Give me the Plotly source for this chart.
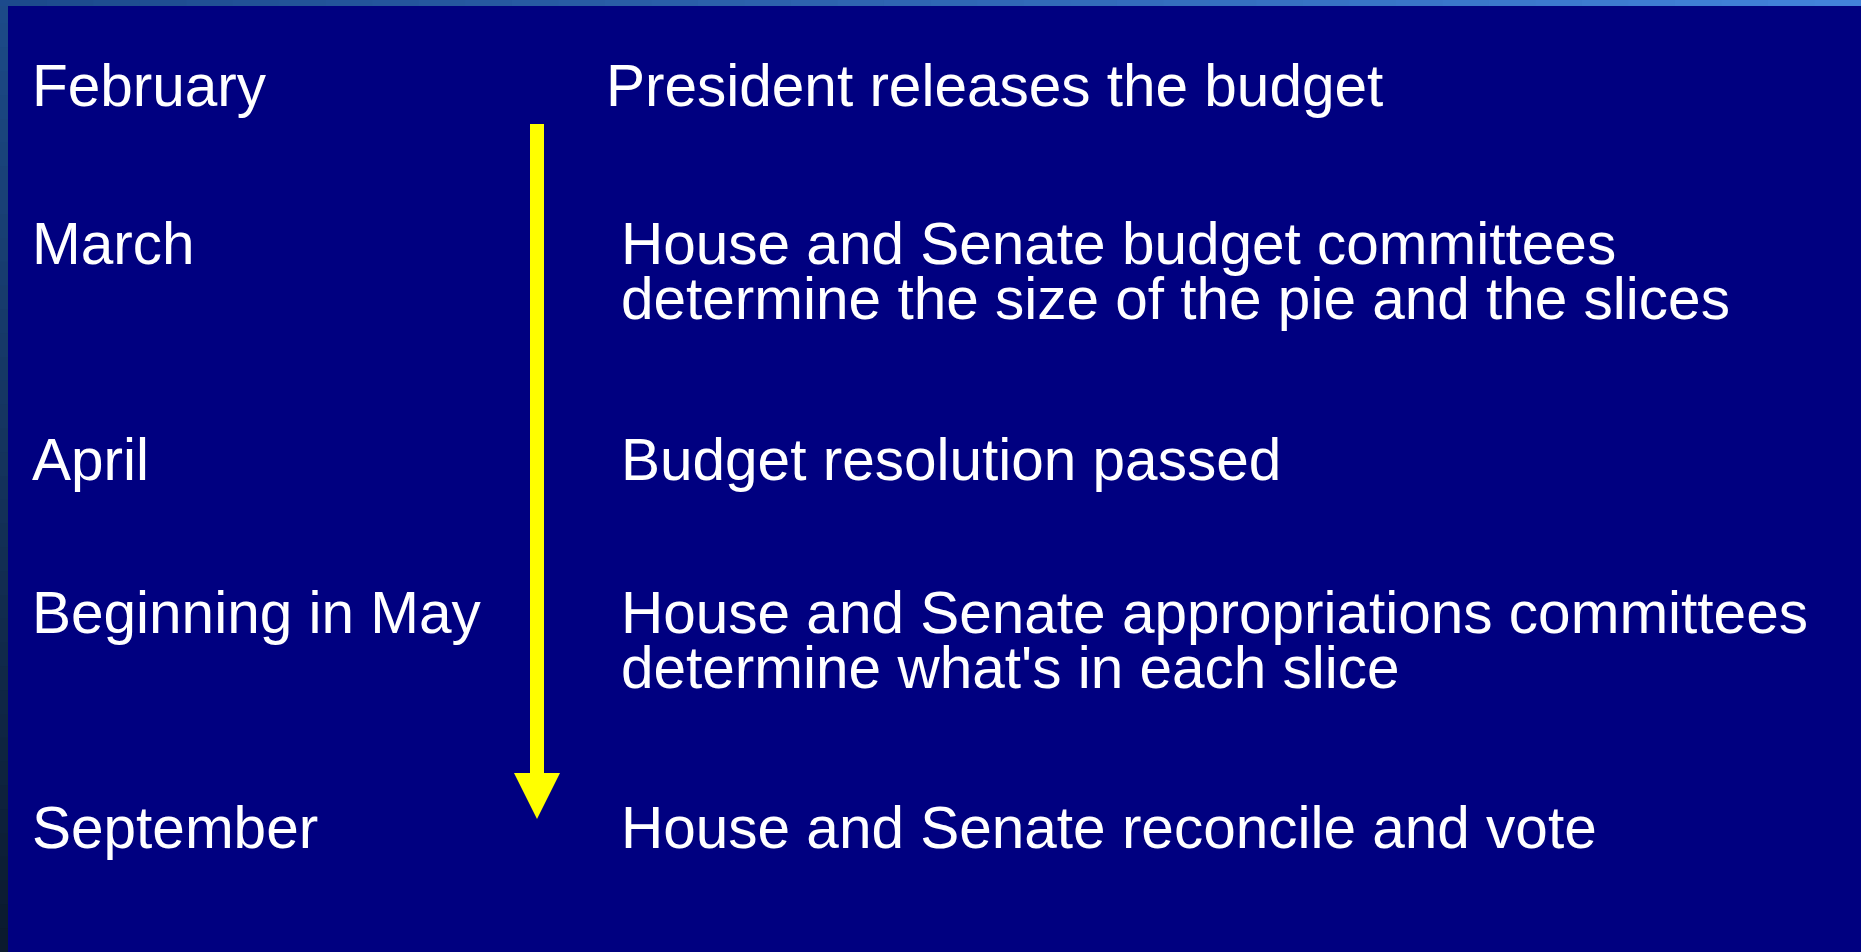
import numpy as np
import plotly.graph_objects as go

W, H = 1861, 952

# slide content
months = ["February", "March", "April", "Beginning in May", "September"]
steps = [
    ["President releases the budget"],
    ["House and Senate budget committees", "determine the size of the pie and the slices"],
    ["Budget resolution passed"],
    ["House and Senate appropriations committees", "determine what's in each slice"],
    ["House and Senate reconcile and vote"],
]
baselines = [106, 264, 480, 633, 848]   # px from top, first line of each row

FONT = "Liberation Sans, Arial, sans-serif"
SIZE = 58.5
LINE_GAP = 55
NAVY = "#000080"


def mid_from_baseline(b):
    # annotation box is centred on (ascent - descent) / 2 above the baseline
    return b - 0.3465 * SIZE


def lerp(c1, c2, t):
    a = np.array([int(c1[i:i + 2], 16) for i in (1, 3, 5)])
    b = np.array([int(c2[i:i + 2], 16) for i in (1, 3, 5)])
    c = (a + (b - a) * t).round().astype(int)
    return "#%02x%02x%02x" % tuple(c)


fig = go.Figure()
shapes = []

# frame: top strip fades left to right, left strip fades top to bottom
n = 40
for i in range(n):
    x0 = W * i / n
    x1 = W * (i + 1) / n + 1
    shapes.append(dict(type="rect", x0=x0, x1=x1, y0=0, y1=6, line_width=0,
                       fillcolor=lerp("#1c4a8c", "#4282da", i / (n - 1)), layer="below"))
for i in range(n):
    y0 = H * i / n
    y1 = H * (i + 1) / n + 1
    shapes.append(dict(type="rect", x0=0, x1=8, y0=max(y0, 6), y1=y1, line_width=0,
                       fillcolor=lerp("#1c4a88", "#0b1a2e", i / (n - 1)), layer="below"))

# yellow timeline arrow
shaft_x, shaft_w = 537, 14
shapes.append(dict(type="rect", x0=shaft_x - shaft_w / 2, x1=shaft_x + shaft_w / 2,
                   y0=124, y1=774, fillcolor="#ffff00", line_width=0))
shapes.append(dict(type="path", path="M 514 773 L 560 773 L 537 819 Z",
                   fillcolor="#ffff00", line_width=0))

annotations = []
for m, b in zip(months, baselines):
    annotations.append(dict(x=30, y=mid_from_baseline(b), text=m, showarrow=False,
                            xanchor="left", yanchor="middle",
                            font=dict(family=FONT, size=SIZE, color="white")))
for k, (lines, b) in enumerate(zip(steps, baselines)):
    x = 604 if k == 0 else 619
    for j, line in enumerate(lines):
        annotations.append(dict(x=x, y=mid_from_baseline(b + j * LINE_GAP), text=line,
                                showarrow=False, xanchor="left", yanchor="middle",
                                font=dict(family=FONT, size=SIZE, color="white")))

fig.update_layout(
    width=W, height=H,
    margin=dict(l=0, r=0, t=0, b=0),
    paper_bgcolor=NAVY, plot_bgcolor=NAVY,
    xaxis=dict(range=[0, W], visible=False, fixedrange=True),
    yaxis=dict(range=[H, 0], visible=False, fixedrange=True),
    shapes=shapes, annotations=annotations,
    showlegend=False,
)

# drop the browser's default body margin so the slide sits at the page corner
fig.write_html("out.html", config={"displayModeBar": False},
               post_script="document.body.style.margin='0';document.body.style.overflow='hidden';")
